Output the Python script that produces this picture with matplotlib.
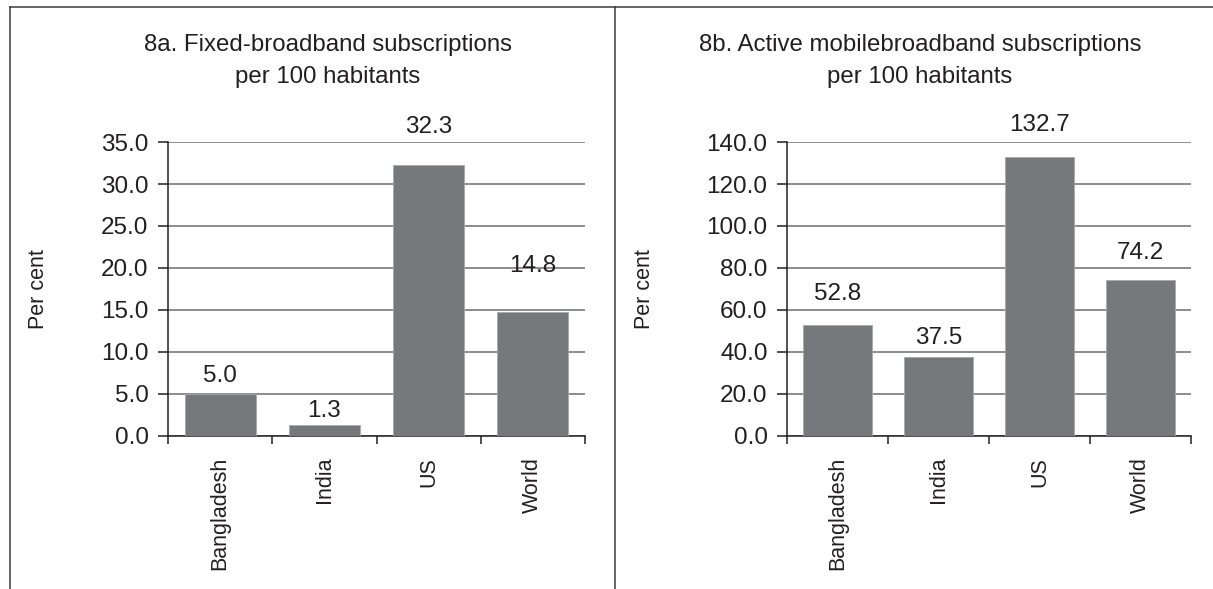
import matplotlib as mpl
mpl.use('Agg')
import matplotlib.pyplot as plt
from matplotlib.lines import Line2D
from matplotlib.ticker import FixedLocator, FormatStrFormatter

# Subscriptions per 100 inhabitants
countries = ['Bangladesh', 'India', 'US', 'World']
fixed_bb = [5.0, 1.3, 32.3, 14.8]
mobile_bb = [52.8, 37.5, 132.7, 74.2]

title_a = ['8a. Fixed-broadband subscriptions', 'per 100 habitants']
title_b = ['8b. Active mobilebroadband subscriptions', 'per 100 habitants']

plt.rcParams['font.family'] = ['Liberation Sans', 'DejaVu Sans']
ink = '#231f20'
bar_col = '#77787b'
grid_col = '#6d6e71'

W, H = 1213, 589
fig = plt.figure(figsize=(W / 100, H / 100), dpi=100)

def px(x0, y0, x1, y1):
    # pixel box (top-left origin) -> figure fraction rect
    return [x0 / W, 1 - y1 / H, (x1 - x0) / W, (y1 - y0) / H]

def panel(rect, vals, ymax, ystep, lab_gap):
    ax = fig.add_axes(rect)
    xs = range(len(vals))
    ax.bar(xs, vals, width=0.68, color=bar_col, edgecolor='#a7a9ac', linewidth=0.6, zorder=3)
    for x, v, g in zip(xs, vals, lab_gap):
        ax.annotate('%.1f' % v, (x, v), xytext=(0, g * 0.72), textcoords='offset points',
                    ha='center', va='bottom', fontsize=17.5, color=ink)
    ax.set_xlim(-0.5, len(vals) - 0.5)
    ax.set_ylim(0, ymax)
    yt = [i * ystep for i in range(int(ymax / ystep) + 1)]
    ax.yaxis.set_major_locator(FixedLocator(yt))
    ax.yaxis.set_major_formatter(FormatStrFormatter('%.1f'))
    ax.yaxis.grid(True, color=grid_col, linewidth=1.1, zorder=0)
    ax.set_axisbelow(True)
    # category boundaries carry the tick marks, names sit at the centres
    ax.xaxis.set_major_locator(FixedLocator([i - 0.5 for i in range(len(vals) + 1)]))
    ax.xaxis.set_major_formatter(plt.NullFormatter())
    ax.xaxis.set_minor_locator(FixedLocator(list(xs)))
    ax.set_xticklabels(countries, minor=True, rotation=90, fontsize=15.5, color=ink)
    ax.tick_params(axis='x', which='major', length=6, width=1.1, color=ink, direction='out')
    ax.tick_params(axis='x', which='minor', length=0, pad=15)
    ax.tick_params(axis='y', length=7, width=1.1, color=ink, pad=7, labelsize=17.5, labelcolor=ink)
    for s in ['top', 'right']:
        ax.spines[s].set_visible(False)
    for s in ['left', 'bottom']:
        ax.spines[s].set_color(ink)
        ax.spines[s].set_linewidth(1.1)
    return ax

panel(px(168, 142, 585, 436), fixed_bb, 35, 5, [7, 3, 27, 35])
panel(px(787, 142, 1191, 436), mobile_bb, 140, 20, [20, 8, 21, 16])

# two-line panel titles
for cx, lines in [(328, title_a), (920, title_b)]:
    for cy, line in zip([45, 77], lines):
        fig.text(cx / W, 1 - cy / H, line, ha='center', va='center', fontsize=17.3, color=ink)

fig.text(38 / W, 1 - 289 / H, 'Per cent', rotation=90, ha='center', va='center',
         fontsize=15.5, color=ink)
fig.text(645 / W, 1 - 289 / H, 'Per cent', rotation=90, ha='center', va='center',
         fontsize=15.5, color=ink)

# frame lines around the two panels
frame = dict(color='#3a3a3a', linewidth=1.1, transform=fig.transFigure)
top_y = 1 - 7 / H
fig.add_artist(Line2D([9.5 / W, 1], [top_y, top_y], **frame))
fig.add_artist(Line2D([9.5 / W, 9.5 / W], [0, top_y], **frame))
fig.add_artist(Line2D([615 / W, 615 / W], [0, top_y], **frame))

fig.savefig('out.png', dpi=100, facecolor='white')
